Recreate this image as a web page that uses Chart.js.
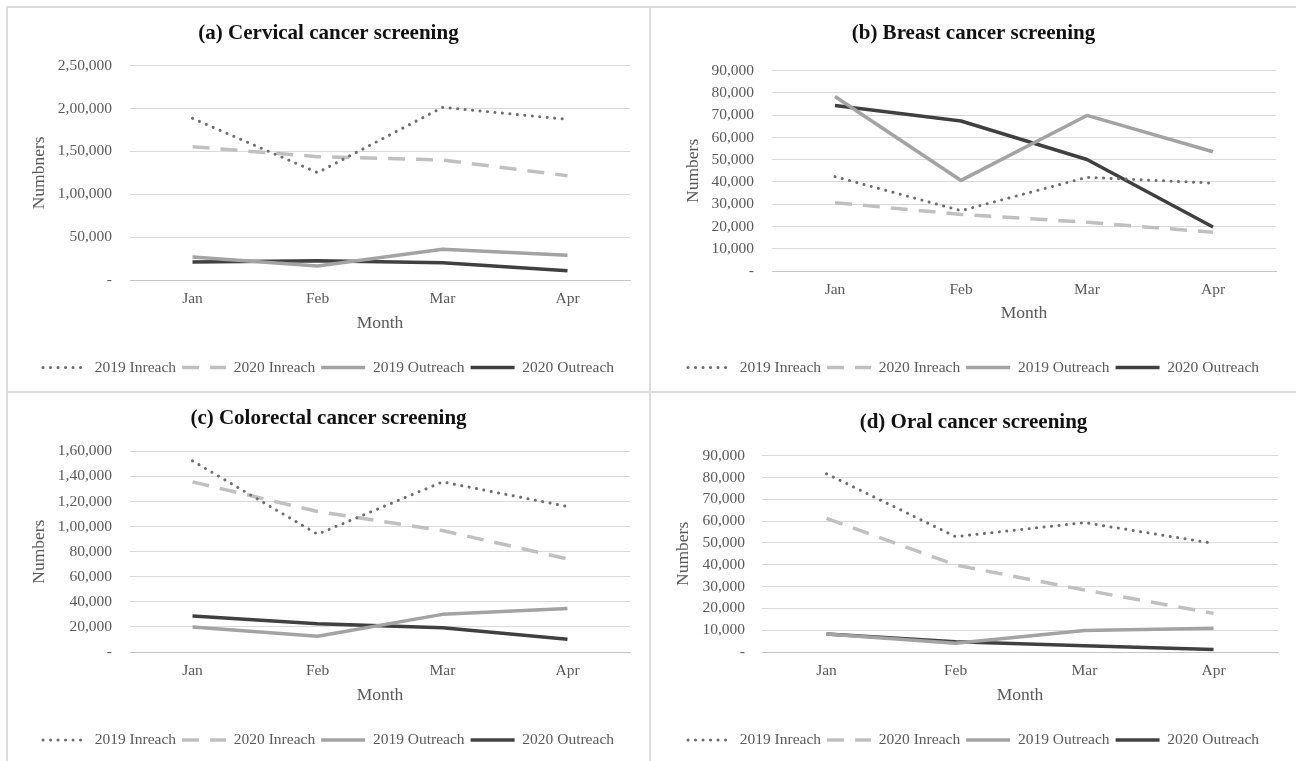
<!DOCTYPE html>
<html>
<head>
<meta charset="utf-8">
<title>Cancer screening, Jan–Apr 2019 vs 2020</title>
<script src="https://cdn.jsdelivr.net/npm/chart.js@4.4.1/dist/chart.umd.min.js"></script>
<style>
  html, body { margin: 0; padding: 0; background: #fff; }
  #page { position: relative; width: 1296px; height: 761px; overflow: hidden; background: #fff; }
  .rule { position: absolute; background: #dcdcdc; }
  canvas { position: absolute; }
</style>
</head>
<body>
<div id="page">
  <div class="rule" style="left:6px;top:6px;width:1290px;height:2px"></div>
  <div class="rule" style="left:6px;top:6px;width:2px;height:755px"></div>
  <div class="rule" style="left:649px;top:6px;width:2px;height:755px"></div>
  <div class="rule" style="left:6px;top:391px;width:1290px;height:2px"></div>
  <canvas id="cervical"   style="left:8px;top:8px"     width="641" height="383"></canvas>
  <canvas id="breast"     style="left:651px;top:8px"   width="645" height="383"></canvas>
  <canvas id="colorectal" style="left:8px;top:393px"   width="641" height="368"></canvas>
  <canvas id="oral"       style="left:651px;top:393px" width="645" height="368"></canvas>
</div>
<script>
// ---- data ----
const months = ['Jan', 'Feb', 'Mar', 'Apr'];
const seriesNames = ['2019 Inreach', '2020 Inreach', '2019 Outreach', '2020 Outreach'];

// (a) Cervical cancer screening
const cervicalInreach2019  = [188600, 125200, 201400, 187400];
const cervicalInreach2020  = [155500, 143900, 140000, 121700];
const cervicalOutreach2019 = [26800, 16300, 35800, 28800];
const cervicalOutreach2020 = [21000, 22500, 20200, 10900];
const cervicalTicks = ['-', '50,000', '1,00,000', '1,50,000', '2,00,000', '2,50,000'];

// (b) Breast cancer screening
const breastInreach2019  = [42400, 27100, 42100, 39500];
const breastInreach2020  = [30700, 25400, 21900, 17400];
const breastOutreach2019 = [78400, 40700, 69900, 53600];
const breastOutreach2020 = [74400, 67400, 50100, 19800];
const breastTicks = ['-', '10,000', '20,000', '30,000', '40,000', '50,000', '60,000', '70,000', '80,000', '90,000'];

// (c) Colorectal cancer screening
const colorectalInreach2019  = [152400, 93900, 135600, 116000];
const colorectalInreach2020  = [135600, 112000, 96800, 74200];
const colorectalOutreach2019 = [20000, 12500, 30000, 34600];
const colorectalOutreach2020 = [28700, 22600, 19400, 10100];
const colorectalTicks = ['-', '20,000', '40,000', '60,000', '80,000', '1,00,000', '1,20,000', '1,40,000', '1,60,000'];

// (d) Oral cancer screening
const oralInreach2019  = [81700, 52900, 59300, 49800];
const oralInreach2020  = [61300, 39900, 28400, 17700];
const oralOutreach2019 = [8300, 4000, 9900, 10900];
const oralOutreach2020 = [8300, 4700, 2900, 1100];
const oralTicks = ['-', '10,000', '20,000', '30,000', '40,000', '50,000', '60,000', '70,000', '80,000', '90,000'];

// ---- styling ----
const SERIF = "'Liberation Serif', 'Times New Roman', Times, serif";
const GREY_TEXT = '#595959';
const lineStyles = [
  { borderColor: '#6e6e6e', borderWidth: 3,   borderDash: [0.1, 7.4], borderCapStyle: 'round' },
  { borderColor: '#c0c0c0', borderWidth: 3.5, borderDash: [17, 11],   borderCapStyle: 'butt' },
  { borderColor: '#a3a3a3', borderWidth: 3.5, borderDash: [],         borderCapStyle: 'butt' },
  { borderColor: '#404040', borderWidth: 3.5, borderDash: [],         borderCapStyle: 'butt' }
];

const TITLE_SIZE = 21, AXIS_TITLE_SIZE = 17.5, TICK_SIZE = 15.5, LEGEND_SIZE = 15.5, LEGEND_GAP = 6;

function buildChart(id, title, yTitle, series, tickLabels, yMax, yStep, box) {
  const canvas = document.getElementById(id);
  const W = canvas.width, H = canvas.height;
  const titleLH = TITLE_SIZE * 1.2;
  const axisLH = AXIS_TITLE_SIZE * 1.2;
  const padBottom = H - box.legendY - 10 - LEGEND_SIZE / 2;
  const legendTop = H - padBottom - (LEGEND_SIZE + LEGEND_GAP + 10);
  const xAxisHeight = legendTop - box.plotBottom;

  const datasets = series.map((values, i) => Object.assign({
    label: seriesNames[i],
    data: values,
    fill: false,
    tension: 0,
    pointRadius: 0,
    pointHoverRadius: 0,
    borderJoinStyle: 'round'
  }, lineStyles[i]));

  return new Chart(canvas, {
    type: 'line',
    data: { labels: months, datasets },
    options: {
      responsive: false,
      animation: false,
      devicePixelRatio: 1,
      layout: { padding: { top: 0, left: 0, right: 0, bottom: padBottom } },
      plugins: {
        tooltip: { enabled: false },
        title: {
          display: true,
          text: title,
          color: '#111',
          font: { family: SERIF, size: TITLE_SIZE, weight: 'bold' },
          padding: { top: box.titleY - titleLH / 2, bottom: box.plotTop - box.titleY - titleLH / 2 }
        },
        legend: {
          position: 'bottom',
          labels: {
            font: { family: SERIF, size: LEGEND_SIZE },
            color: GREY_TEXT,
            usePointStyle: true,
            pointStyle: 'line',
            pointStyleWidth: 44,
            padding: LEGEND_GAP,
            generateLabels: (chart) => chart.data.datasets.map((ds, i) => ({
              text: ds.label,
              fillStyle: ds.borderColor,
              strokeStyle: ds.borderColor,
              fontColor: GREY_TEXT,
              lineWidth: ds.borderWidth,
              lineDash: ds.borderDash,
              lineCap: ds.borderCapStyle,
              pointStyle: 'line',
              hidden: false,
              datasetIndex: i
            }))
          }
        }
      },
      scales: {
        x: {
          type: 'category',
          offset: true,
          grid: { display: false, drawTicks: false },
          border: { display: true, color: '#c6c6c6', width: 1 },
          ticks: { color: GREY_TEXT, font: { family: SERIF, size: TICK_SIZE }, padding: box.tickOffset - TICK_SIZE * 1.2 / 2, maxRotation: 0 },
          title: {
            display: true, text: 'Month', color: GREY_TEXT,
            font: { family: SERIF, size: AXIS_TITLE_SIZE },
            padding: { top: 0, bottom: xAxisHeight - box.monthOffset - axisLH / 2 }
          },
          afterFit: (s) => { s.height = xAxisHeight; }
        },
        y: {
          type: 'linear',
          position: 'left',
          min: 0,
          max: yMax,
          grid: { color: '#d9d9d9', lineWidth: 1, drawTicks: false },
          border: { display: false },
          ticks: {
            stepSize: yStep,
            color: GREY_TEXT,
            font: { family: SERIF, size: TICK_SIZE },
            padding: box.tickGap,
            callback: (value, index) => tickLabels[index]
          },
          title: {
            display: true, text: yTitle, color: GREY_TEXT,
            font: { family: SERIF, size: AXIS_TITLE_SIZE },
            padding: { top: box.yTitleX - axisLH / 2, bottom: 0 }
          },
          afterFit: (s) => { s.width = box.plotLeft; }
        },
        gutter: {
          type: 'linear',
          position: 'right',
          display: true,
          grid: { display: false, drawTicks: false },
          border: { display: false },
          ticks: { display: false },
          afterFit: (s) => { s.width = W - box.plotRight; }
        }
      }
    }
  });
}

buildChart('cervical', '(a) Cervical cancer screening', 'Numbners',
  [cervicalInreach2019, cervicalInreach2020, cervicalOutreach2019, cervicalOutreach2020],
  cervicalTicks, 250000, 50000,
  { plotTop: 57.7, plotBottom: 272, plotLeft: 122, plotRight: 622, titleY: 26, yTitleX: 31,
    legendY: 359.5, tickGap: 18, tickOffset: 19, monthOffset: 43 });

buildChart('breast', '(b) Breast cancer screening', 'Numbers',
  [breastInreach2019, breastInreach2020, breastOutreach2019, breastOutreach2020],
  breastTicks, 90000, 10000,
  { plotTop: 62.7, plotBottom: 263, plotLeft: 121, plotRight: 625, titleY: 26, yTitleX: 42,
    legendY: 359.5, tickGap: 18, tickOffset: 19, monthOffset: 42 });

buildChart('colorectal', '(c) Colorectal cancer screening', 'Numbers',
  [colorectalInreach2019, colorectalInreach2020, colorectalOutreach2019, colorectalOutreach2020],
  colorectalTicks, 160000, 20000,
  { plotTop: 58.3, plotBottom: 259, plotLeft: 122, plotRight: 622, titleY: 26, yTitleX: 31,
    legendY: 347, tickGap: 18, tickOffset: 19, monthOffset: 43 });

buildChart('oral', '(d) Oral cancer screening', 'Numbers',
  [oralInreach2019, oralInreach2020, oralOutreach2019, oralOutreach2020],
  oralTicks, 90000, 10000,
  { plotTop: 62.7, plotBottom: 259, plotLeft: 111, plotRight: 627, titleY: 30, yTitleX: 32,
    legendY: 347, tickGap: 17, tickOffset: 19, monthOffset: 43 });
</script>
</body>
</html>
